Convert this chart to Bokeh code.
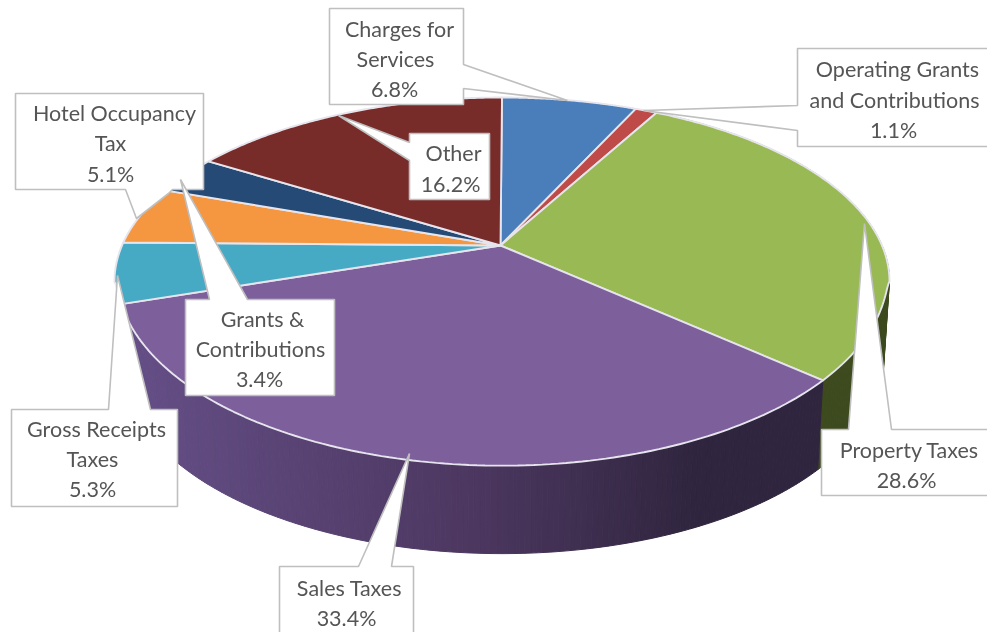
import numpy as np
from bokeh.plotting import figure, ColumnDataSource
from bokeh.core.properties import value
from bokeh.embed import file_html
from bokeh.resources import INLINE

# ---------- data ----------
categories = ["Charges for Services", "Operating Grants and Contributions", "Property Taxes",
              "Sales Taxes", "Gross Receipts Taxes", "Hotel Occupancy Tax",
              "Grants & Contributions", "Other"]
values = [6.8, 1.1, 28.6, 33.4, 5.3, 5.1, 3.4, 16.2]
slice_colors = ["#4a7ebb", "#be4b48", "#98b954", "#7d5f9c", "#46aac5", "#f59640", "#254a75", "#772c2a"]
label_lines = [["Charges for", "Services", "6.8%"],
               ["Operating Grants", "and Contributions", "1.1%"],
               ["Property Taxes", "28.6%"],
               ["Sales Taxes", "33.4%"],
               ["Gross Receipts", "Taxes", "5.3%"],
               ["Hotel Occupancy", "Tax", "5.1%"],
               ["Grants &", "Contributions", "3.4%"],
               ["Other", "16.2%"]]

# ---------- layout ----------
W, H = 987, 632
CX, CY, RX, RY, K = 501.5, 245.0, 380.0, 177.0, 0.196
DROP, SHRINK = 91.5, 0.984
PINCH = 12.0
label_centers = [[(399, 28), (395, 58), (394, 88)],
                 [(897, 68), (894, 99), (893, 129)],
                 [(909, 449), (906, 479)],
                 [(349, 587), (346, 617)],
                 [(96, 428), (92, 458), (92, 488)],
                 [(114, 112), (110, 142), (110, 173)],
                 [(262, 318), (260, 348), (259, 378)],
                 [(453, 152), (450, 183)]]
callouts = [
    [(329, 8), (463, 8), (463, 64), (567, 100), (463, 88), (463, 104), (329, 104)],
    [(797, 48), (995, 48), (995, 146), (797, 146), (797, 130), (643, 110), (797, 105)],
    [(821, 429), (848, 429), (864, 223), (891, 429), (995, 429), (995, 495), (821, 495)],
    [(279, 566), (358, 566), (409, 453), (391, 566), (413, 566), (413, 640), (279, 640)],
    [(11, 409), (108, 409), (117, 275), (150, 409), (177, 409), (177, 506), (11, 506)],
    [(15, 93), (203, 93), (203, 189), (172, 189), (168, 193), (136, 218), (125, 189), (15, 189)],
    [(185, 299), (209, 299), (180, 179), (247, 299), (334, 299), (334, 395), (185, 395)],
    [(409, 133), (489, 133), (489, 199), (409, 199), (409, 160), (338, 115), (409, 142)],
]
callout_order = [7, 0, 1, 5, 4, 6, 3, 2]


def rim(th):
    u, v = np.sin(th), np.cos(th)
    d = 1 + K * v
    pinch = PINCH * u * np.sqrt(np.maximum(0.0, -v - 0.2))
    return CX + RX * u / d - pinch, CY - RY * v / d


def lower(x, y):
    return CX + SHRINK * (x - CX), CY + SHRINK * (y - CY) + DROP


def mix(a, b, t):
    t = min(1.0, max(0.0, t))
    return "#%02x%02x%02x" % tuple(int(round(a[i] + (b[i] - a[i]) * t)) for i in range(3))


p = figure(width=W, height=H, x_range=(0, W), y_range=(H, 0), toolbar_location=None,
           output_backend="svg", min_border=0, outline_line_color=None,
           styles={"position": "fixed", "left": "0px", "top": "0px"})
p.axis.visible = False
p.grid.visible = False
p.background_fill_color = "white"
p.border_fill_color = "white"

cum = np.cumsum([0] + values) / sum(values) * 2 * np.pi
idx_green, idx_purple = 2, 3

# side wall: dark green part, swept in strips so the outer envelope is covered
th = np.linspace(cum[idx_green], cum[idx_green + 1], 160)
x, y = rim(th)
lx, ly = lower(x, y)
gxs = [[x[i], x[i + 1], lx[i + 1], lx[i]] for i in range(len(th) - 1)]
gys = [[y[i], y[i + 1], ly[i + 1], ly[i]] for i in range(len(th) - 1)]
p.patches(gxs, gys, fill_color="#3c4a1e", line_color="#3c4a1e", line_width=1)

# side wall: purple part, left-to-right shaded in thin strips
th = np.linspace(cum[idx_purple], cum[idx_purple + 1], 170)
x, y = rim(th)
lx, ly = lower(x, y)
left_c, mid_c, right_c = (100, 78, 134), (76, 55, 96), (47, 37, 62)
xs, ys, cs = [], [], []
for i in range(len(th) - 1):
    xm = (x[i] + x[i + 1]) / 2
    c = mix(left_c, mid_c, (xm - 130) / 345) if xm < 475 else mix(mid_c, right_c, (xm - 475) / 225)
    xs.append([x[i], x[i + 1], lx[i + 1], lx[i]])
    ys.append([y[i], y[i + 1], ly[i + 1], ly[i]])
    cs.append(c)
p.patches(xs, ys, fill_color=cs, line_color=cs, line_width=1)

# top face
for i, (name, col) in enumerate(zip(categories, slice_colors)):
    th = np.linspace(cum[i], cum[i + 1], 120)
    x, y = rim(th)
    p.patch([CX - 1.5] + list(x), [CY] + list(y), fill_color=col, line_color="#e6e4ec", line_width=1.9)

# callouts
for j in callout_order:
    pts = callouts[j]
    p.patch([a for a, _ in pts], [b for _, b in pts], fill_color="white",
            line_color="#bfbfbf", line_width=1.6)

# labels
tx, ty, tt = [], [], []
for lines, centers in zip(label_lines, label_centers):
    for s, (a, b) in zip(lines, centers):
        tx.append(a); ty.append(b); tt.append(s)
src = ColumnDataSource(dict(x=tx, y=ty, t=tt))
p.text("x", "y", text="t", source=src, text_align="center", text_baseline="middle",
       text_font=value("Lato"), text_font_size="21.5px", text_color="#555555")

open("out.html", "w").write(file_html(p, INLINE))
